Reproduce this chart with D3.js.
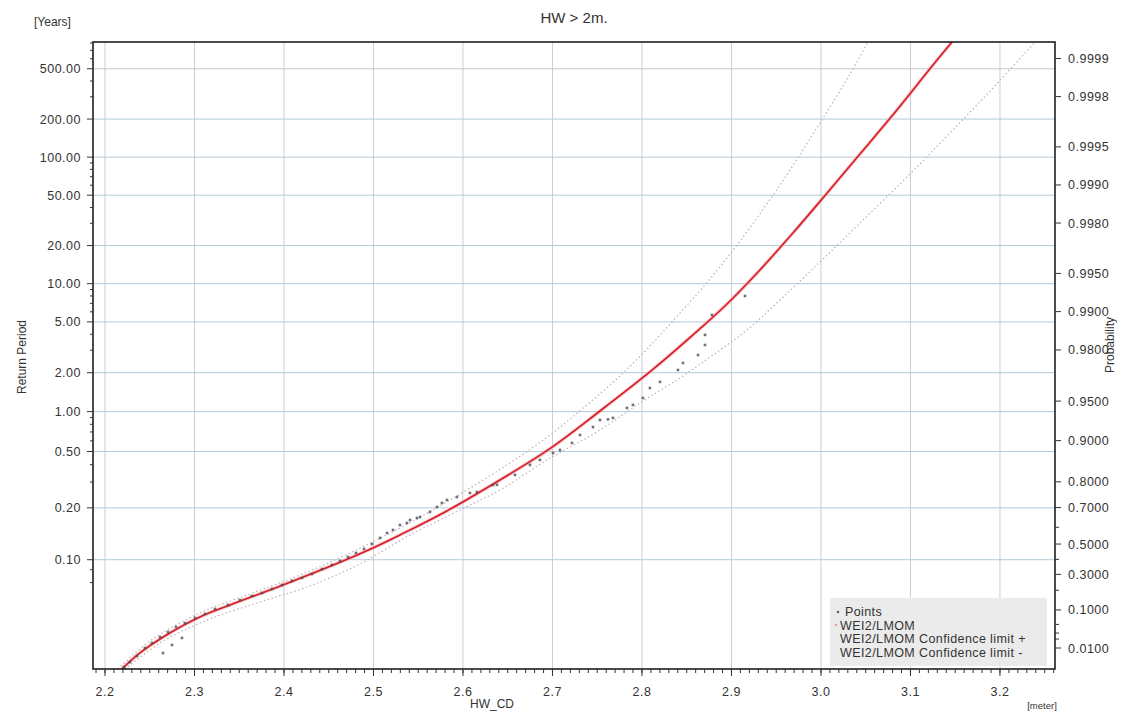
<!DOCTYPE html>
<html>
<head>
<meta charset="utf-8">
<script src="https://cdn.jsdelivr.net/npm/d3@7"></script>
<style>
  body { margin: 0; background: #fff; }
  svg { font-family: "Liberation Sans", Arial, sans-serif; }
</style>
</head>
<body>
<svg id="chart" width="1125" height="713"></svg>
<script>
// mean number of events per year (links return period to probability)
const eventsPerYear = 16.6;

// WEI2/LMOM fitted curve : level [m] / non-exceedance probability
const fitX = [2.219, 2.239, 2.265, 2.306, 2.340, 2.396, 2.466, 2.4994, 2.5296, 2.5799, 2.6413, 2.6950,
  2.7531, 2.8101, 2.8570, 2.8950, 2.9318, 2.9687, 3.0022, 3.0436, 3.0804, 3.1263, 3.1464];
const fitP = [0.00117, 0.00645, 0.02314, 0.0730, 0.1222, 0.2260, 0.3892, 0.4750, 0.5558, 0.6795, 0.8060, 0.8826,
  0.94043, 0.97080, 0.98475, 0.991291, 0.995306, 0.997606, 0.998733, 0.999431, 0.999721, 0.999890, 0.999926];

// confidence limit +
const upX = [2.2145, 2.2503, 2.3061, 2.362, 2.4179, 2.4737, 2.5296, 2.5855, 2.6492, 2.6972, 2.7385, 2.7754,
  2.8089, 2.8425, 2.876, 2.9095, 2.9542, 2.9989, 3.0324, 3.0525];
const upP = [0.00117, 0.01741, 0.0878, 0.1789, 0.2959, 0.4424, 0.5961, 0.7329, 0.8487, 0.9093, 0.9465, 0.96807,
  0.98137, 0.98974, 0.994470, 0.997226, 0.999, 0.999677, 0.999867, 0.999926];

// confidence limit -
const loX = [2.2223, 2.2670, 2.3173, 2.3732, 2.4291, 2.4849, 2.5408, 2.5966, 2.6413, 2.6939, 2.7531, 2.7978,
  2.8425, 2.8793, 2.9173, 2.9542, 2.9989, 3.0436, 3.0961, 3.1441, 3.1922, 3.2391];
const loP = [0.00117, 0.01871, 0.0663, 0.1364, 0.2260, 0.3693, 0.5558, 0.6889, 0.7718, 0.8608, 0.9169, 0.94831,
  0.96692, 0.97809, 0.98607, 0.991901, 0.995938, 0.998002, 0.999134, 0.999612, 0.999829, 0.999926];

// observed points
const ptX = [2.2212, 2.2279, 2.2358, 2.2447, 2.2525, 2.2615, 2.2648, 2.2749, 2.2860, 2.2704, 2.2793, 2.2894,
  2.3006, 2.3117, 2.3229, 2.3374, 2.3508, 2.3642, 2.3754, 2.3866, 2.3978, 2.4089, 2.4201, 2.4313,
  2.4425, 2.4536, 2.4626, 2.4715, 2.4804, 2.4894, 2.4983, 2.5073, 2.5151, 2.5218, 2.5296, 2.5374,
  2.5408, 2.5486, 2.5520, 2.5631, 2.5709, 2.5765, 2.5821, 2.5933, 2.6078, 2.6156, 2.6335, 2.6380,
  2.6581, 2.6749, 2.6860, 2.7006, 2.7084, 2.7218, 2.7307, 2.7453, 2.7531, 2.7620, 2.7676, 2.7832,
  2.7899, 2.8011, 2.8089, 2.8201, 2.8402, 2.8458, 2.8626, 2.8704, 2.8704, 2.8782, 2.9151];
const ptP = [0.00149, 0.00262, 0.00487, 0.01001, 0.0150, 0.02314, 0.00645, 0.01281, 0.0216, 0.0321, 0.0433, 0.0540,
  0.0697, 0.0840, 0.1042, 0.1222, 0.1467, 0.1680, 0.1845, 0.2078, 0.2320, 0.2572, 0.2766, 0.3024,
  0.3356, 0.3624, 0.3892, 0.4160, 0.4424, 0.4686, 0.5005, 0.5376, 0.5674, 0.5849, 0.6128, 0.6235,
  0.6395, 0.6497, 0.6549, 0.6795, 0.7027, 0.7205, 0.7329, 0.7452, 0.7608, 0.7645, 0.7894, 0.7900,
  0.8213, 0.8487, 0.8608, 0.8763, 0.8826, 0.8959, 0.9093, 0.9211, 0.9302, 0.9310, 0.9327, 0.9436,
  0.9465, 0.9527, 0.9604, 0.9645, 0.97132, 0.97471, 0.97809, 0.98172, 0.98475, 0.98938, 0.99247];

// axis ticks
const xTicks = [2.2, 2.3, 2.4, 2.5, 2.6, 2.7, 2.8, 2.9, 3.0, 3.1, 3.2];
const periodTicks = [500, 200, 100, 50, 20, 10, 5, 2, 1, 0.5, 0.2, 0.1];
const periodMinor = [800, 700, 600, 400, 300, 90, 80, 70, 60, 40, 30, 9, 8, 7, 6, 4, 3, 0.9, 0.8, 0.7, 0.6, 0.4, 0.3, 0.09, 0.08];
const probTicks = [0.9999, 0.9998, 0.9995, 0.999, 0.998, 0.995, 0.99, 0.98, 0.95, 0.9, 0.8, 0.7, 0.5, 0.3, 0.1, 0.01];
const probMinor = [0.6, 0.4, 0.2, 0.05, 0.03, 0.02];
const legendLabels = ["Points", "WEI2/LMOM", "WEI2/LMOM Confidence limit +", "WEI2/LMOM Confidence limit -"];

const svg = d3.select("#chart");
const margin = { left: 93, top: 42, right: 70, bottom: 44 };
const W = 1125, H = 713;
const x0 = margin.left, x1 = W - margin.right, y0 = margin.top, y1 = H - margin.bottom;

// gumbel probability paper
const gumbel = p => -Math.log(-Math.log(p));
const x = d3.scaleLinear().domain([2.1866, 3.2615]).range([x0, x1]);
const yg = d3.scaleLinear().domain([gumbel(0.00117), gumbel(0.999926)]).range([y1, y0]);
const yP = p => yg(gumbel(p));
const yT = t => yP(1 - 1 / (eventsPerYear * t));

svg.append("defs").append("clipPath").attr("id", "clip")
  .append("rect").attr("x", x0).attr("y", y0).attr("width", x1 - x0).attr("height", y1 - y0);

// grid
const grid = svg.append("g");
grid.selectAll(".vg").data(xTicks).join("line")
  .attr("x1", d => x(d)).attr("x2", d => x(d)).attr("y1", y0).attr("y2", y1)
  .attr("stroke", "#c9cfd3").attr("stroke-width", 1);
grid.selectAll(".hg").data(periodTicks).join("line")
  .attr("x1", x0).attr("x2", x1).attr("y1", d => yT(d)).attr("y2", d => yT(d))
  .attr("stroke", d => d == 500 ? "#c8c8c8" : "#b4c9d6").attr("stroke-width", 1);

// curves
const plot = svg.append("g").attr("clip-path", "url(#clip)");
const line = d3.line().x(d => x(d[0])).y(d => yP(d[1])).curve(d3.curveCatmullRom.alpha(0.5));
const zip = (a, b) => a.map((v, i) => [v, b[i]]);

plot.append("path").datum(zip(upX, upP)).attr("d", line)
  .attr("fill", "none").attr("stroke", "#c4aeb2").attr("stroke-width", 1.2).attr("stroke-dasharray", "1.5,2.5");
plot.append("path").datum(zip(loX, loP)).attr("d", line)
  .attr("fill", "none").attr("stroke", "#c4aeb2").attr("stroke-width", 1.2).attr("stroke-dasharray", "1.5,2.5");
plot.append("path").datum(zip(fitX, fitP)).attr("d", line)
  .attr("fill", "none").attr("stroke", "#f3a9b0").attr("stroke-width", 3.5).attr("opacity", 0.7);
plot.append("path").datum(zip(fitX, fitP)).attr("d", line)
  .attr("fill", "none").attr("stroke", "#d81c24").attr("stroke-width", 1.6);

plot.selectAll(".pt").data(zip(ptX, ptP)).join("rect")
  .attr("x", d => x(d[0]) - 1.3).attr("y", d => yP(d[1]) - 1.3)
  .attr("width", 2.6).attr("height", 2.6)
  .attr("fill", "#4a4f52").attr("opacity", 0.8);

// legend
const lg = svg.append("g");
lg.append("rect").attr("x", 830).attr("y", 598).attr("width", 217).attr("height", 68)
  .attr("fill", "#e9e9e9").attr("opacity", 0.92);
lg.selectAll("text").data(legendLabels).join("text")
  .attr("x", (d, i) => i == 0 ? 845 : 840).attr("y", (d, i) => 616 + i * 13.5)
  .attr("font-size", 12.5).attr("fill", "#333").attr("letter-spacing", 0.4)
  .text(d => d);
lg.append("circle").attr("cx", 838).attr("cy", 612).attr("r", 1.2).attr("fill", "#555");
lg.append("circle").attr("cx", 836).attr("cy", 625).attr("r", 1.2).attr("fill", "#e79aa0");

// frame
svg.append("rect").attr("x", x0).attr("y", y0).attr("width", x1 - x0).attr("height", y1 - y0)
  .attr("fill", "none").attr("stroke", "#111").attr("stroke-width", 1.5);

const tickStroke = "#333";
// left axis
const la = svg.append("g");
la.selectAll(".tk").data(periodTicks).join("line")
  .attr("x1", x0 - 6).attr("x2", x0).attr("y1", d => yT(d)).attr("y2", d => yT(d)).attr("stroke", tickStroke);
la.selectAll(".mn").data(periodMinor.filter(d => yT(d) > y0 && yT(d) < y1)).join("line")
  .attr("x1", x0 - 3).attr("x2", x0).attr("y1", d => yT(d)).attr("y2", d => yT(d)).attr("stroke", tickStroke);
la.selectAll("text").data(periodTicks).join("text")
  .attr("x", x0 - 12).attr("y", d => yT(d) + 4.5).attr("text-anchor", "end")
  .attr("font-size", 12.5).attr("letter-spacing", 0.5).attr("fill", "#333")
  .text(d => d3.format(".2f")(d));

// right axis
const ra = svg.append("g");
ra.selectAll(".tk").data(probTicks).join("line")
  .attr("x1", x1).attr("x2", x1 + 6).attr("y1", d => yP(d)).attr("y2", d => yP(d)).attr("stroke", tickStroke);
ra.selectAll(".mn").data(probMinor).join("line")
  .attr("x1", x1).attr("x2", x1 + 4).attr("y1", d => yP(d)).attr("y2", d => yP(d)).attr("stroke", tickStroke);
ra.selectAll("text").data(probTicks).join("text")
  .attr("x", x1 + 13).attr("y", d => yP(d) + 4.5)
  .attr("font-size", 12.5).attr("letter-spacing", 0.5).attr("fill", "#333")
  .text(d => d3.format(".4f")(d));

// bottom axis
const ba = svg.append("g");
const minorX = d3.range(219, 327).map(d => d / 100);
ba.selectAll(".mn").data(minorX).join("line")
  .attr("x1", d => x(d)).attr("x2", d => x(d)).attr("y1", y1).attr("y2", y1 + 4).attr("stroke", tickStroke);
ba.selectAll(".tk").data(xTicks).join("line")
  .attr("x1", d => x(d)).attr("x2", d => x(d)).attr("y1", y1).attr("y2", y1 + 7).attr("stroke", tickStroke);
ba.selectAll("text").data(xTicks).join("text")
  .attr("x", d => x(d)).attr("y", y1 + 27).attr("text-anchor", "middle")
  .attr("font-size", 12.5).attr("letter-spacing", 0.5).attr("fill", "#333")
  .text(d => d3.format(".1f")(d));

// titles
svg.append("text").attr("x", (x0 + x1) / 2).attr("y", 23).attr("text-anchor", "middle")
  .attr("font-size", 15).attr("fill", "#333").text("HW > 2m.");
svg.append("text").attr("x", 34).attr("y", 26).attr("font-size", 12).attr("fill", "#333").text("[Years]");
svg.append("text").attr("transform", "translate(26,357) rotate(-90)").attr("text-anchor", "middle")
  .attr("font-size", 12).attr("fill", "#333").text("Return Period");
svg.append("text").attr("transform", "translate(1114,345) rotate(-90)").attr("text-anchor", "middle")
  .attr("font-size", 12).attr("fill", "#333").text("Probability");
svg.append("text").attr("x", 492).attr("y", 708).attr("text-anchor", "middle")
  .attr("font-size", 12).attr("fill", "#333").text("HW_CD");
svg.append("text").attr("x", 1042).attr("y", 709).attr("text-anchor", "middle")
  .attr("font-size", 9.5).attr("fill", "#333").text("[meter]");
</script>
</body>
</html>
